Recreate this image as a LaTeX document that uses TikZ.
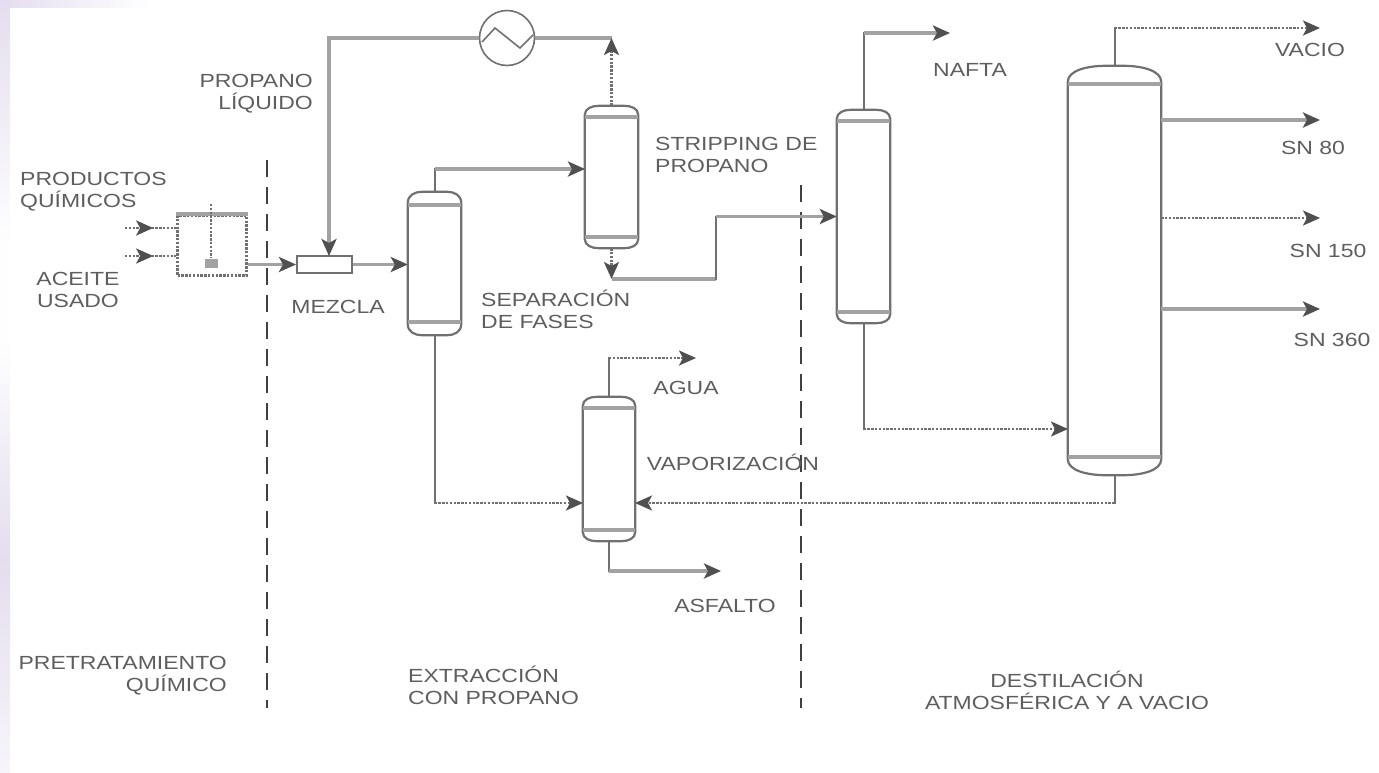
\documentclass[tikz,border=0pt]{standalone}
\usepackage{fontspec}
\setmainfont[FakeStretch=1.21]{Liberation Sans}
\usetikzlibrary{arrows.meta,decorations.markings}
\definecolor{pipegray}{HTML}{A2A2A2}
\definecolor{headgray}{HTML}{505050}
\definecolor{wallgray}{HTML}{707070}
\definecolor{textgray}{HTML}{5E5E5E}
\definecolor{bordlav}{HTML}{E4DDEF}
\tikzset{tiphead/.tip={Stealth[length=17pt,width=15pt,inset=4pt,color=headgray]}}
\tikzstyle{pipe} = [draw=pipegray, line width=3.6pt]
\tikzstyle{thinpipe} = [draw=wallgray, line width=2pt, line cap=rect]
\tikzstyle{dotpipe} = [draw=wallgray, line width=2.6pt, dash pattern=on 2.4pt off 1.4pt]
\tikzstyle{line} = [pipe, -tiphead]
\tikzstyle{dotline} = [dotpipe, -tiphead]
\tikzstyle{midline} = [dotpipe, postaction={decorate}, decoration={markings,
  mark=at position 0.55 with {\arrow{tiphead}}}]
\tikzstyle{divider} = [draw=black!75, line width=1.4pt, dash pattern=on 17pt off 10pt]
\tikzstyle{label} = [inner sep=0pt, text=textgray, font=\fontsize{19}{22}\selectfont]
\tikzset{vessel/.style n args={2}{inner sep=0pt,
  append after command={
    \pgfextra{\draw[wallgray, line width=2.2pt]
      ([yshift=-#2pt]\tikzlastnode.north west)
        .. controls ([yshift={-0.3*#2}]\tikzlastnode.north west) and ([xshift={0.5*#1}]\tikzlastnode.north west)
        .. ([xshift=#1pt]\tikzlastnode.north west) -- ([xshift=-#1pt]\tikzlastnode.north east)
        .. controls ([xshift={-0.5*#1}]\tikzlastnode.north east) and ([yshift={-0.3*#2}]\tikzlastnode.north east)
        .. ([yshift=-#2pt]\tikzlastnode.north east) -- ([yshift=#2pt]\tikzlastnode.south east)
        .. controls ([yshift={0.3*#2}]\tikzlastnode.south east) and ([xshift={-0.5*#1}]\tikzlastnode.south east)
        .. ([xshift=-#1pt]\tikzlastnode.south east) -- ([xshift=#1pt]\tikzlastnode.south west)
        .. controls ([xshift={0.5*#1}]\tikzlastnode.south west) and ([yshift={0.3*#2}]\tikzlastnode.south west)
        .. ([yshift=#2pt]\tikzlastnode.south west) -- cycle;
    \draw[pipegray, line width=3.6pt]
      ([yshift={-#2-2}]\tikzlastnode.north west) -- ([yshift={-#2-2}]\tikzlastnode.north east)
      ([yshift={#2+2}]\tikzlastnode.south west) -- ([yshift={#2+2}]\tikzlastnode.south east);}}}}

\begin{document}
\begin{tikzpicture}[x=1pt, y=-1pt]
\useasboundingbox (0,0) rectangle (1379,772);

% fondo
\fill[left color=bordlav, right color=white] (0,0) rectangle (150,7);
\fill[top color=bordlav, bottom color=white] (0,0) rectangle (10,250);
\fill[white!97!bordlav] (0,250) rectangle (10,340);
\fill[top color=white!97!bordlav, bottom color=bordlav] (0,340) rectangle (10,560);
\fill[top color=bordlav, bottom color=white!70!bordlav] (0,560) rectangle (10,772);

% separadores
\coordinate (div_a_top) at (267,160);
\coordinate (div_a_low) at (267,708);
\coordinate (div_b_top) at (801,185);
\coordinate (div_b_low) at (801,708);
\path [divider] (div_a_top) -- (div_a_low);
\path [divider] (div_b_top) -- (div_b_low);

% equipos
\node [dotpipe, minimum width=69pt, minimum height=60pt] (tank) at (212,245.5) {};
\path [pipe] (tank.north west) -- (tank.north east);
\node [draw=wallgray, line width=2pt, minimum width=55pt, minimum height=17pt] (mixer) at (324.5,264.5) {};
\node [vessel={14}{11}, minimum width=53pt, minimum height=143pt] (sep_col) at (434.5,263.5) {};
\node [vessel={14}{9}, minimum width=53pt, minimum height=142pt] (strip_col) at (611.5,177) {};
\node [vessel={14}{9}, minimum width=53pt, minimum height=213pt] (naf_col) at (863.5,216.5) {};
\node [vessel={14}{9}, minimum width=52pt, minimum height=144pt] (vap_col) at (609,469) {};
\node [vessel={38}{16}, minimum width=93pt, minimum height=409pt] (vac_col) at (1114.5,270.5) {};
\node [draw=wallgray, line width=1.6pt, circle, minimum size=55pt, inner sep=0pt] (cooler) at (507,38) {};
\draw [wallgray, line width=1.6pt] (482,42) -- (495,28) -- (520,48) -- (533,35);

% agitador
\coordinate (stir_top) at (211,204);
\node [fill=pipegray, minimum width=13pt, minimum height=9pt, inner sep=0pt] (stir_blob) at (211,263) {};
\path [dotpipe] (stir_top) -- (stir_blob);

% extremos libres
\coordinate (chem_in) at (125,228);
\coordinate (oil_in) at (125,256);
\coordinate (mix_in) at (329,256);
\coordinate (cool_ret) at (611.5,38);
\coordinate (sep_top) at (434.5,169);
\coordinate (strip_in) at (585,169);
\coordinate (strip_low) at (611.5,279);
\coordinate (riser_low) at (716,279);
\coordinate (riser) at (716,216.5);
\coordinate (naf_out) at (950,33);
\coordinate (naf_low) at (863.5,429);
\coordinate (vac_in) at (1068,429);
\coordinate (sep_low) at (434.5,503);
\coordinate (vap_in) at (583,503);
\coordinate (vac_low) at (1114.5,503);
\coordinate (vap_ret) at (635,503);
\coordinate (agua_out) at (696,358);
\coordinate (asf_out) at (721,571);
\coordinate (vacio_out) at (1320,28);
\coordinate (sn80_out) at (1320,120);
\coordinate (sn150_out) at (1320,218);
\coordinate (sn360_out) at (1320,309);

% lineas
\path [midline] (chem_in) -- (chem_in -| tank.west);
\path [midline] (oil_in) -- (oil_in -| tank.west);
\path [line] (tank.east |- mixer.west) -- (mixer.west);
\path [line] (mixer.east) -- (mixer.east -| sep_col.west);

\path [line] (cooler.west) -| (mix_in);
\path [pipe] (cooler.east) -- (cool_ret);
\path [dotline] (strip_col.north) -- (cool_ret);

\path [thinpipe] (sep_col.north) -- (sep_top);
\path [line] (sep_top) -- (strip_in);

\path [dotline] (strip_col.south) -- (strip_low);
\path [pipe] (strip_low) -- (riser_low);
\path [thinpipe] (riser_low) -- (riser);
\path [line] (riser) -- (naf_col.west);

\path [thinpipe] (naf_col.north) -- (naf_col.north |- naf_out);
\path [line] (naf_col.north |- naf_out) -- (naf_out);
\path [thinpipe] (naf_col.south) -- (naf_low);
\path [dotline] (naf_low) -- (vac_in);

\path [thinpipe] (sep_col.south) -- (sep_low);
\path [dotline] (sep_low) -- (vap_in);
\path [thinpipe] (vac_col.south) -- (vac_low);
\path [dotline] (vac_low) -- (vap_ret);

\path [thinpipe] (vap_col.north) -- (vap_col.north |- agua_out);
\path [dotline] (vap_col.north |- agua_out) -- (agua_out);
\path [thinpipe] (vap_col.south) -- (vap_col.south |- asf_out);
\path [line] (vap_col.south |- asf_out) -- (asf_out);

\path [thinpipe] (vac_col.north) -- (vac_col.north |- vacio_out);
\path [dotline] (vac_col.north |- vacio_out) -- (vacio_out);
\path [line] (vac_col.east |- sn80_out) -- (sn80_out);
\path [dotline] (vac_col.east |- sn150_out) -- (sn150_out);
\path [line] (vac_col.east |- sn360_out) -- (sn360_out);

% textos
\node [label, anchor=west, align=left] (lbl_prod) at (20,191.5) {PRODUCTOS\\QUÍMICOS};
\node [label, align=center] (lbl_oil) at (78,290) {ACEITE\\USADO};
\node [label, anchor=east, align=right] (lbl_prop) at (313,94) {PROPANO\\LÍQUIDO};
\node [label] (lbl_mez) at (338,307) {MEZCLA};
\node [label, anchor=west, align=left] (lbl_sep) at (481,309) {SEPARACIÓN\\DE FASES};
\node [label, anchor=west, align=left] (lbl_strip) at (655,155) {STRIPPING DE\\PROPANO};
\node [label] (lbl_naf) at (970,70) {NAFTA};
\node [label] (lbl_vacio) at (1310,50) {VACIO};
\node [label] (lbl_sn80) at (1313,148) {SN 80};
\node [label] (lbl_sn150) at (1328,251) {SN 150};
\node [label] (lbl_sn360) at (1332,340) {SN 360};
\node [label] (lbl_agua) at (686,388) {AGUA};
\node [label] (lbl_vap) at (733,462) {VAPORIZACIÓN};
\node [label] (lbl_asf) at (725,606) {ASFALTO};
\node [label, anchor=east, align=right] (lbl_pre) at (227,676) {PRETRATAMIENTO\\QUÍMICO};
\node [label, anchor=west, align=left] (lbl_ext) at (408,685) {EXTRACCIÓN\\CON PROPANO};
\node [label, align=center] (lbl_dest) at (1067,690) {DESTILACIÓN\\ATMOSFÉRICA Y A VACIO};
\end{tikzpicture}
\end{document}
